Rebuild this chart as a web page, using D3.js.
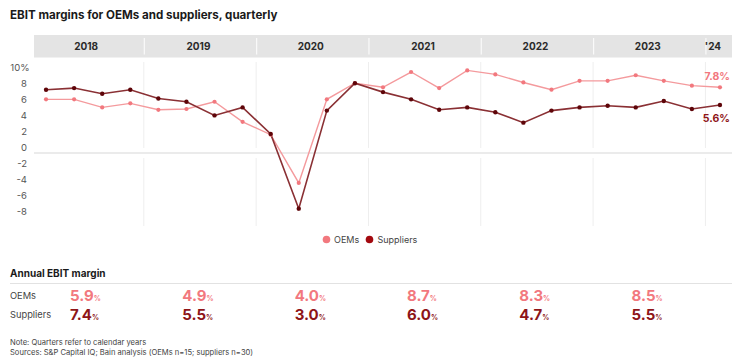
<!DOCTYPE html>
<html>
<head>
<meta charset="utf-8">
<script src="https://cdn.jsdelivr.net/npm/d3@7/dist/d3.min.js"></script>
<style>
  html, body { margin: 0; padding: 0; background: #fff; }
  svg { display: block; font-family: Inter, "Open Sans", sans-serif; }
</style>
</head>
<body>
<svg id="chart" width="738" height="362"></svg>
<script>
// Quarterly EBIT margin (%), 2018 Q1 to 2024 Q1
const quarters = [
  "2018 Q1","2018 Q2","2018 Q3","2018 Q4",
  "2019 Q1","2019 Q2","2019 Q3","2019 Q4",
  "2020 Q1","2020 Q2","2020 Q3","2020 Q4",
  "2021 Q1","2021 Q2","2021 Q3","2021 Q4",
  "2022 Q1","2022 Q2","2022 Q3","2022 Q4",
  "2023 Q1","2023 Q2","2023 Q3","2023 Q4",
  "2024 Q1"
];
const oems = [
  6.3, 6.3, 5.3, 5.8,
  5.0, 5.1, 6.0, 3.5,
  1.9, -4.1, 6.3, 8.3,
  7.8, 9.7, 7.7, 9.9,
  9.4, 8.4, 7.5, 8.6,
  8.6, 9.3, 8.6, 8.0,
  7.8
];
const suppliers = [
  7.5, 7.7, 7.0, 7.5,
  6.4, 6.0, 4.3, 5.3,
  2.0, -7.3, 4.9, 8.3,
  7.2, 6.3, 5.0, 5.3,
  4.7, 3.4, 4.9, 5.3,
  5.5, 5.3, 6.1, 5.1,
  5.6
];

// Year header
const headerYears = ["2018","2019","2020","2021","2022","2023","2024"];
const headerLabels = ["2018","2019","2020","2021","2022","2023","'24"];

// Annual EBIT margin (%)
const annualYears = ["2018","2019","2020","2021","2022","2023"];
const annualOems = [5.9, 4.9, 4.0, 8.7, 8.3, 8.5];
const annualSuppliers = [7.4, 5.5, 3.0, 6.0, 4.7, 5.5];

const yTicks = [-8, -6, -4, -2, 0, 2, 4, 6, 8, 10];

const colorOem = "#f2787e";
const colorOemLine = "#f49a9d";
const colorSup = "#8e1518";
const colorSupLine = "#8a3034";
const colorSupDot = "#5e0509";

const svg = d3.select("#chart");

const x = d3.scaleBand().domain(quarters).range([32, 734]);
const bw = x.bandwidth();
const cx = q => x(q) + bw / 2;
const y = d3.scaleLinear().domain([-8, 10]).range([214.3, 69.6]);

// Title
svg.append("text")
  .attr("x", 10).attr("y", 19)
  .attr("font-size", 11.6).attr("font-weight", 700).attr("fill", "#1a1a1a")
  .text("EBIT margins for OEMs and suppliers, quarterly");

// Header band with year labels
const headerTop = 35, headerBottom = 57.5;
svg.append("rect")
  .attr("x", 34).attr("y", headerTop)
  .attr("width", 732 - 34).attr("height", headerBottom - headerTop)
  .attr("fill", "#e4e4e4");

const yearStart = yr => x(yr + " Q1");
const yearEnd = yr => {
  const qs = quarters.filter(q => q.startsWith(yr));
  return Math.min(x(qs[qs.length - 1]) + bw, 732);
};

headerYears.forEach((yr, i) => {
  if (i > 0) {
    svg.append("line")
      .attr("x1", yearStart(yr)).attr("x2", yearStart(yr))
      .attr("y1", headerTop + 3).attr("y2", headerBottom - 3)
      .attr("stroke", "#fafafa").attr("stroke-width", 1.2);
  }
  const mid = yr === "2024" ? yearStart(yr) + 7 : (yearStart(yr) + yearEnd(yr)) / 2 - 2;
  svg.append("text")
    .attr("x", mid).attr("y", (headerTop + headerBottom) / 2 + 3.5)
    .attr("text-anchor", "middle")
    .attr("font-size", 10).attr("font-weight", 700).attr("fill", "#2a2a2a")
    .text(headerLabels[i]);
});

// Gridlines at year boundaries, broken around the zero band
const zeroBand = y(0) + 3;
const grid = svg.append("g");
headerYears.slice(1).forEach(yr => {
  const gx = yearStart(yr) - 0.5;
  grid.append("line").attr("x1", gx).attr("x2", gx)
    .attr("y1", 62).attr("y2", zeroBand - 5)
    .attr("stroke", "#eeeeee").attr("stroke-width", 1);
  grid.append("line").attr("x1", gx).attr("x2", gx)
    .attr("y1", zeroBand + 5).attr("y2", 226)
    .attr("stroke", "#eeeeee").attr("stroke-width", 1);
});
svg.append("line")
  .attr("x1", 34).attr("x2", 732)
  .attr("y1", zeroBand).attr("y2", zeroBand)
  .attr("stroke", "#ebebeb").attr("stroke-width", 2.2);

// Y axis
const yAxis = d3.axisLeft(y).tickValues(yTicks).tickSize(0).tickPadding(0)
  .tickFormat(v => v === 10 ? "10%" : String(v));
const yg = svg.append("g").attr("transform", "translate(27,0)").call(yAxis);
yg.select(".domain").remove();
yg.selectAll("text")
  .attr("font-family", "Inter, 'Open Sans', sans-serif")
  .attr("font-size", 9.5).attr("fill", "#555")
  .attr("dy", "0.32em")
  .attr("transform", d => `translate(${d === 10 ? 2.5 : 0},-2.6)`);

// Lines and dots
const line = d3.line().x((d, i) => cx(quarters[i])).y(d => y(d));

svg.append("path").datum(oems)
  .attr("d", line).attr("fill", "none")
  .attr("stroke", colorOemLine).attr("stroke-width", 1.4);
svg.append("path").datum(suppliers)
  .attr("d", line).attr("fill", "none")
  .attr("stroke", colorSupLine).attr("stroke-width", 1.6);

svg.append("g").selectAll("circle").data(oems).join("circle")
  .attr("cx", (d, i) => cx(quarters[i])).attr("cy", d => y(d))
  .attr("r", 2.1).attr("fill", colorOem);
svg.append("g").selectAll("circle").data(suppliers).join("circle")
  .attr("cx", (d, i) => cx(quarters[i])).attr("cy", d => y(d))
  .attr("r", 2.2).attr("fill", colorSupDot);

// End labels
const lastQ = quarters[quarters.length - 1];
svg.append("text")
  .attr("x", cx(lastQ) + 10).attr("y", y(oems[oems.length - 1]) - 7)
  .attr("text-anchor", "end").attr("font-size", 10.5).attr("font-weight", 700)
  .attr("fill", colorOem)
  .text(oems[oems.length - 1].toFixed(1) + "%");
svg.append("text")
  .attr("x", cx(lastQ) + 10).attr("y", y(suppliers[suppliers.length - 1]) + 17)
  .attr("text-anchor", "end").attr("font-size", 10.5).attr("font-weight", 700)
  .attr("fill", colorSup)
  .text(suppliers[suppliers.length - 1].toFixed(1) + "%");

// Legend
const legend = svg.append("g").attr("font-size", 9).attr("fill", "#444");
legend.append("circle").attr("cx", 326.5).attr("cy", 239.5).attr("r", 3.8).attr("fill", colorOem);
legend.append("text").attr("x", 334).attr("y", 242.8).text("OEMs");
legend.append("circle").attr("cx", 369.5).attr("cy", 239.5).attr("r", 3.8).attr("fill", "#a3090f");
legend.append("text").attr("x", 377.5).attr("y", 242.8).text("Suppliers");

// Annual table
svg.append("text")
  .attr("x", 10).attr("y", 276.5)
  .attr("font-size", 10).attr("font-weight", 700).attr("fill", "#1a1a1a")
  .text("Annual EBIT margin");
svg.append("line")
  .attr("x1", 10).attr("x2", 732).attr("y1", 283.5).attr("y2", 283.5)
  .attr("stroke", "#e2e2e2").attr("stroke-width", 1);

const rows = [
  { label: "OEMs", values: annualOems, color: colorOem, yy: 300.5 },
  { label: "Suppliers", values: annualSuppliers, color: colorSup, yy: 319.5 }
];
rows.forEach(r => {
  svg.append("text")
    .attr("x", 10).attr("y", r.yy - 1.5)
    .attr("font-size", 9.3).attr("fill", "#444")
    .text(r.label);
  annualYears.forEach((yr, i) => {
    const t = svg.append("text")
      .attr("x", yearStart(yr) + 38).attr("y", r.yy)
      .attr("fill", r.color).attr("font-weight", 700);
    t.append("tspan").attr("font-size", 15).text(r.values[i].toFixed(1));
    t.append("tspan").attr("font-size", 7).text("%");
  });
});

// Notes
const notes = svg.append("g").attr("font-size", 7.6).attr("fill", "#444");
notes.append("text").attr("x", 10).attr("y", 345).text("Note: Quarters refer to calendar years");
notes.append("text").attr("x", 10).attr("y", 354.5)
  .text("Sources: S&P Capital IQ; Bain analysis (OEMs n=15; suppliers n=30)");
</script>
</body>
</html>
